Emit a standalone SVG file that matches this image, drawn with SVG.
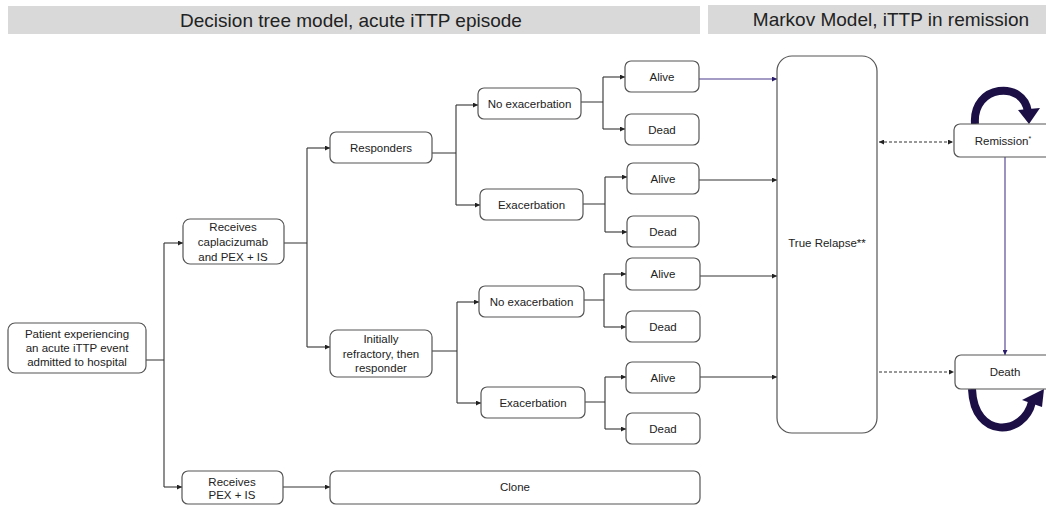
<svg xmlns="http://www.w3.org/2000/svg" width="1046" height="505" viewBox="0 0 1046 505">
<defs>
<style>
.hdr{fill:#d9d9d9}
.ht{font-family:"Liberation Sans",Arial,sans-serif;font-size:19px;fill:#222;text-anchor:middle}
.box{fill:#fff;stroke:#555;stroke-width:1.2}
.t{font-family:"Liberation Sans",Arial,sans-serif;font-size:11.5px;fill:#222;text-anchor:middle}
.c{fill:none;stroke:#333;stroke-width:1.1}
.p{fill:none;stroke:#4a3a8c;stroke-width:1.1}
.d{fill:none;stroke:#333;stroke-width:1.2;stroke-dasharray:3 2}
.loop{fill:none;stroke:#1b0f45;stroke-width:8}
</style>
<marker id="a" viewBox="0 0 8 8" refX="8" refY="4" markerWidth="5" markerHeight="5" orient="auto-start-reverse" markerUnits="userSpaceOnUse"><path d="M0 0 L8 4 L0 8 Z" fill="#222"/></marker>
<marker id="ap" viewBox="0 0 8 8" refX="8" refY="4" markerWidth="5" markerHeight="5" orient="auto" markerUnits="userSpaceOnUse"><path d="M0 0 L8 4 L0 8 Z" fill="#2a1a6a"/></marker>
</defs>
<rect width="1046" height="505" fill="#fff"/>
<g id="headers">
<rect class="hdr" x="8" y="6" width="692" height="28"/>
<text class="ht" x="351" y="27">Decision tree model, acute iTTP episode</text>
<rect class="hdr" x="708" y="5" width="340" height="29"/>
<text class="ht" x="891" y="26">Markov Model, iTTP in remission</text>
</g>
<g id="connectors">
<path class="c" d="M146 360 H164 M164 243 V487"/>
<path class="c" d="M164 243 H183" marker-end="url(#a)"/>
<path class="c" d="M164 487 H182" marker-end="url(#a)"/>
<path class="c" d="M284 243 H307 M307 148 V347"/>
<path class="c" d="M307 148 H330" marker-end="url(#a)"/>
<path class="c" d="M307 347 H330" marker-end="url(#a)"/>
<path class="c" d="M432 153 H456 M456 105 V205"/>
<path class="c" d="M456 105 H478" marker-end="url(#a)"/>
<path class="c" d="M456 205 H480" marker-end="url(#a)"/>
<path class="c" d="M581 102 H603 M603 77 V129"/>
<path class="c" d="M603 77 H625" marker-end="url(#a)"/>
<path class="c" d="M603 129 H625" marker-end="url(#a)"/>
<path class="c" d="M583 204 H605 M605 177 V232"/>
<path class="c" d="M605 177 H627" marker-end="url(#a)"/>
<path class="c" d="M605 232 H627" marker-end="url(#a)"/>
<path class="c" d="M432 351 H457 M457 302 V403"/>
<path class="c" d="M457 302 H479" marker-end="url(#a)"/>
<path class="c" d="M457 403 H481" marker-end="url(#a)"/>
<path class="c" d="M584 300 H604 M604 274 V327"/>
<path class="c" d="M604 274 H626" marker-end="url(#a)"/>
<path class="c" d="M604 327 H626" marker-end="url(#a)"/>
<path class="c" d="M585 402 H605 M605 377 V429"/>
<path class="c" d="M605 377 H626" marker-end="url(#a)"/>
<path class="c" d="M605 429 H626" marker-end="url(#a)"/>
<path class="p" d="M699 79 H777" marker-end="url(#ap)"/>
<path class="c" d="M699 180 H777" marker-end="url(#a)"/>
<path class="c" d="M700 276 H777" marker-end="url(#a)"/>
<path class="c" d="M700 377 H777" marker-end="url(#a)"/>
<path class="c" d="M283 487 H330" marker-end="url(#a)"/>
<path class="d" d="M879 142 H953" marker-start="url(#a)" marker-end="url(#a)"/>
<path class="d" d="M879 372 H954" marker-end="url(#a)"/>
<path class="p" d="M1005 157 V355" marker-end="url(#ap)"/>
<path class="loop" d="M975 124 C972 84, 1024 80, 1028 112"/>
<polygon points="1018,110 1040,108 1029,124" fill="#1b0f45"/>
<path class="loop" d="M972 389 C974 440, 1024 436, 1032 402"/>
<polygon points="1022,400 1044,389 1042,407" fill="#1b0f45"/>
</g>
<g id="patient"><rect class="box" x="8" y="323" width="138" height="50" rx="7"/>
<text class="t" x="77" y="338">Patient experiencing</text><text class="t" x="77" y="352">an acute iTTP event</text><text class="t" x="77" y="366">admitted to hospital</text></g>
<g id="capla"><rect class="box" x="183" y="219" width="101" height="45" rx="7"/>
<text class="t" x="233" y="231">Receives</text><text class="t" x="233" y="246">caplacizumab</text><text class="t" x="233" y="261">and PEX + IS</text></g>
<g id="pex"><rect class="box" x="182" y="471" width="101" height="33" rx="6"/>
<text class="t" x="232" y="486">Receives</text><text class="t" x="232" y="499">PEX + IS</text></g>
<g id="clone"><rect class="box" x="330" y="471" width="370" height="33" rx="6"/>
<text class="t" x="515" y="491">Clone</text></g>
<g id="responders"><rect class="box" x="330" y="132" width="102" height="31" rx="6"/>
<text class="t" x="381" y="152">Responders</text></g>
<g id="refractory"><rect class="box" x="330" y="330" width="102" height="47" rx="7"/>
<text class="t" x="381" y="343">Initially</text><text class="t" x="381" y="358">refractory, then</text><text class="t" x="381" y="372">responder</text></g>
<g id="noexac1"><rect class="box" x="478" y="88" width="103" height="31" rx="6"/>
<text class="t" x="529.5" y="108">No exacerbation</text></g>
<g id="exac1"><rect class="box" x="480" y="189" width="103" height="31" rx="6"/>
<text class="t" x="531.5" y="209">Exacerbation</text></g>
<g id="alive1"><rect class="box" x="625" y="61" width="74" height="31" rx="6"/>
<text class="t" x="662" y="81">Alive</text></g>
<g id="dead1"><rect class="box" x="625" y="114" width="74" height="31" rx="6"/>
<text class="t" x="662" y="134">Dead</text></g>
<g id="alive2"><rect class="box" x="627" y="163" width="72" height="31" rx="6"/>
<text class="t" x="663" y="183">Alive</text></g>
<g id="dead2"><rect class="box" x="627" y="216" width="72" height="31" rx="6"/>
<text class="t" x="663" y="236">Dead</text></g>
<g id="noexac2"><rect class="box" x="479" y="286" width="105" height="31" rx="6"/>
<text class="t" x="531.5" y="306">No exacerbation</text></g>
<g id="exac2"><rect class="box" x="481" y="387" width="104" height="31" rx="6"/>
<text class="t" x="533" y="407">Exacerbation</text></g>
<g id="alive3"><rect class="box" x="626" y="258" width="74" height="32" rx="6"/>
<text class="t" x="663" y="278">Alive</text></g>
<g id="dead3"><rect class="box" x="626" y="311" width="74" height="31" rx="6"/>
<text class="t" x="663" y="331">Dead</text></g>
<g id="alive4"><rect class="box" x="626" y="362" width="74" height="31" rx="6"/>
<text class="t" x="663" y="382">Alive</text></g>
<g id="dead4"><rect class="box" x="626" y="413" width="74" height="31" rx="6"/>
<text class="t" x="663" y="433">Dead</text></g>
<g id="relapse"><rect class="box" x="777" y="56" width="100" height="377" rx="15"/>
<text class="t" x="827" y="247">True Relapse**</text></g>
<g id="remission"><rect class="box" x="954" y="124" width="100" height="33" rx="6"/>
<text class="t" x="1003" y="145">Remission<tspan font-size="7" dy="-4">*</tspan></text></g>
<g id="death"><rect class="box" x="955" y="355" width="100" height="34" rx="6"/>
<text class="t" x="1005" y="376">Death</text></g>
</svg>
